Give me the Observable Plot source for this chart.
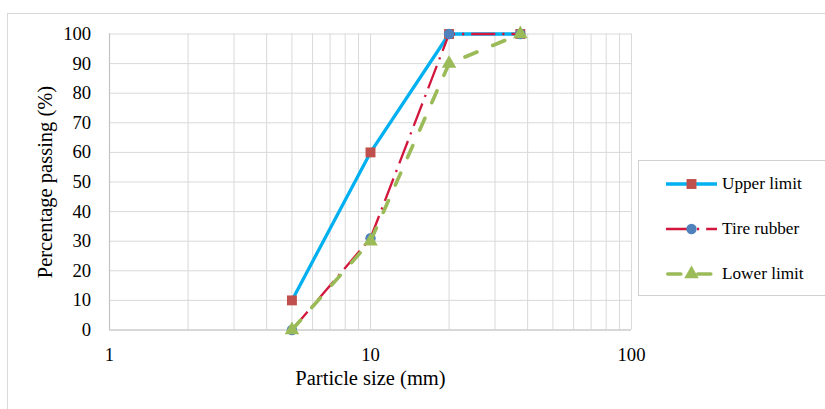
<!DOCTYPE html>
<html>
<head>
<meta charset="utf-8">
<script src="https://cdn.jsdelivr.net/npm/d3@7"></script>
<script src="https://cdn.jsdelivr.net/npm/@observablehq/plot@0.6"></script>
<style>
  body { margin: 0; background: #fff; }
  #chart { position: relative; width: 825px; height: 409px; overflow: hidden;
           font-family: "Liberation Serif", "Times New Roman", serif; background: #fff; }
  #chart .area { position: absolute; left: 7px; top: 13px; width: 900px; height: 500px;
                 border-left: 1px solid #d9d9d9; border-top: 1px solid #d9d9d9; }
  #chart svg.plotsvg { position: absolute; left: 0; top: 0; }
  #chart .legend { position: absolute; left: 638px; top: 160px; width: 300px; height: 134px;
                   border: 1px solid #d0d0d0; background: #fff; }
  #chart .legend .row { position: absolute; left: 0; height: 20px; display: flex; align-items: center; }
  #chart .legend .row svg { margin-left: 27px; }
  #chart .legend .row span { margin-left: 4px; font-size: 17.2px; color: #000; white-space: nowrap; }
</style>
</head>
<body>
<div id="chart"><div class="area"></div></div>
<script>
// Sieve sizes (mm) and percentage passing for each gradation curve
const sieveSize   = [5, 10, 20, 37.5];
const upperLimit  = [10, 60, 100, 100];
const tireRubber  = [0, 31, 100, 100];
const lowerLimit  = [0, 30, 90, 100];

const seriesNames = ["Upper limit", "Tire rubber", "Lower limit"];
const xTickLabels = [1, 10, 100];
const yTickLabels = [0, 10, 20, 30, 40, 50, 60, 70, 80, 90, 100];
const xGridValues = [1, 2, 3, 4, 5, 6, 7, 8, 9, 10, 20, 30, 40, 50, 60, 70, 80, 90, 100];

// drawing styles per curve
const styles = {
  "Upper limit": { stroke: "#00B0F0", strokeWidth: 3.3, dash: null, cap: "butt",
                   symbol: "square", fill: "#C0504D", r: 5.6 },
  "Tire rubber": { stroke: "#D3163C", strokeWidth: 2.3, dash: "24,7,2.2,7", cap: "butt",
                   symbol: "circle", fill: "#4F81BD", r: 5.2 },
  "Lower limit": { stroke: "#9BBB59", strokeWidth: 3.6, dash: "13,17", cap: "round",
                   symbol: "triangle", fill: "#9BBB59", r: 5.4 }
};
const values = { "Upper limit": upperLimit, "Tire rubber": tireRubber, "Lower limit": lowerLimit };

const curveMarks = seriesNames.flatMap(name => {
  const s = styles[name];
  const rows = sieveSize.map((x, i) => ({ x, y: values[name][i] }));
  return [
    Plot.line(rows, { x: "x", y: "y", stroke: s.stroke, strokeWidth: s.strokeWidth,
                      strokeDasharray: s.dash, strokeLinecap: s.cap, strokeLinejoin: "round" }),
    Plot.dot(rows, { x: "x", y: "y", symbol: () => s.symbol, fill: s.fill, r: s.r, stroke: "none" })
  ];
});

const svg = Plot.plot({
  width: 825,
  height: 409,
  marginLeft: 109,
  marginRight: 194,
  marginTop: 33.5,
  marginBottom: 79.5,
  style: { fontFamily: "'Liberation Serif', 'Times New Roman', serif", fontSize: "18.7px",
           color: "#000", background: "transparent" },
  x: { type: "log", domain: [1, 100] },
  y: { domain: [0, 100] },
  marks: [
    Plot.ruleX(xGridValues, { stroke: "#d9d9d9", strokeWidth: 1 }),
    Plot.ruleY(yTickLabels, { stroke: "#d9d9d9", strokeWidth: 1 }),
    Plot.ruleX([1], { stroke: "#c4c4c4", strokeWidth: 1.2 }),
    Plot.ruleY([0], { stroke: "#c4c4c4", strokeWidth: 1.2 }),
    ...curveMarks,
    Plot.axisX({ ticks: xTickLabels, tickSize: 0, tickPadding: 18, tickFormat: d => String(d),
                 label: null, fill: "#000" }),
    Plot.axisY({ ticks: yTickLabels, tickSize: 0, tickPadding: 18.3, tickFormat: d => String(d),
                 label: null, fill: "#000" }),
    Plot.text(["Particle size (mm)"], { frameAnchor: "bottom", dy: 54.6, fontSize: 20.5, fill: "#000" }),
    Plot.text(["Percentage passing (%)"], { frameAnchor: "left", textAnchor: "middle", dx: -64.4,
                                            rotate: -90, fontSize: 20.5, fill: "#000" })
  ]
});
svg.classList.add("plotsvg");
const chart = document.getElementById("chart");
chart.appendChild(svg);

// legend box with line + marker swatches
const legend = d3.select(chart).append("div").attr("class", "legend");
const rowTops = [13, 58, 103];
seriesNames.forEach((name, i) => {
  const s = styles[name];
  const row = legend.append("div").attr("class", "row").style("top", rowTops[i] + "px");
  const sw = row.append("svg").attr("width", 52).attr("height", 20);
  sw.append("line").attr("x1", s.cap === "round" ? 1.8 : 0).attr("x2", s.cap === "round" ? 49 : 51)
    .attr("y1", 10).attr("y2", 10)
    .attr("stroke", s.stroke).attr("stroke-width", s.strokeWidth)
    .attr("stroke-dasharray", s.dash).attr("stroke-linecap", s.cap);
  const sym = { square: d3.symbolSquare, circle: d3.symbolCircle, triangle: d3.symbolTriangle }[s.symbol];
  sw.append("path").attr("transform", "translate(25.5,10)")
    .attr("d", d3.symbol(sym, Math.PI * s.r * s.r)()).attr("fill", s.fill);
  row.append("span").text(name);
});
</script>
</body>
</html>
